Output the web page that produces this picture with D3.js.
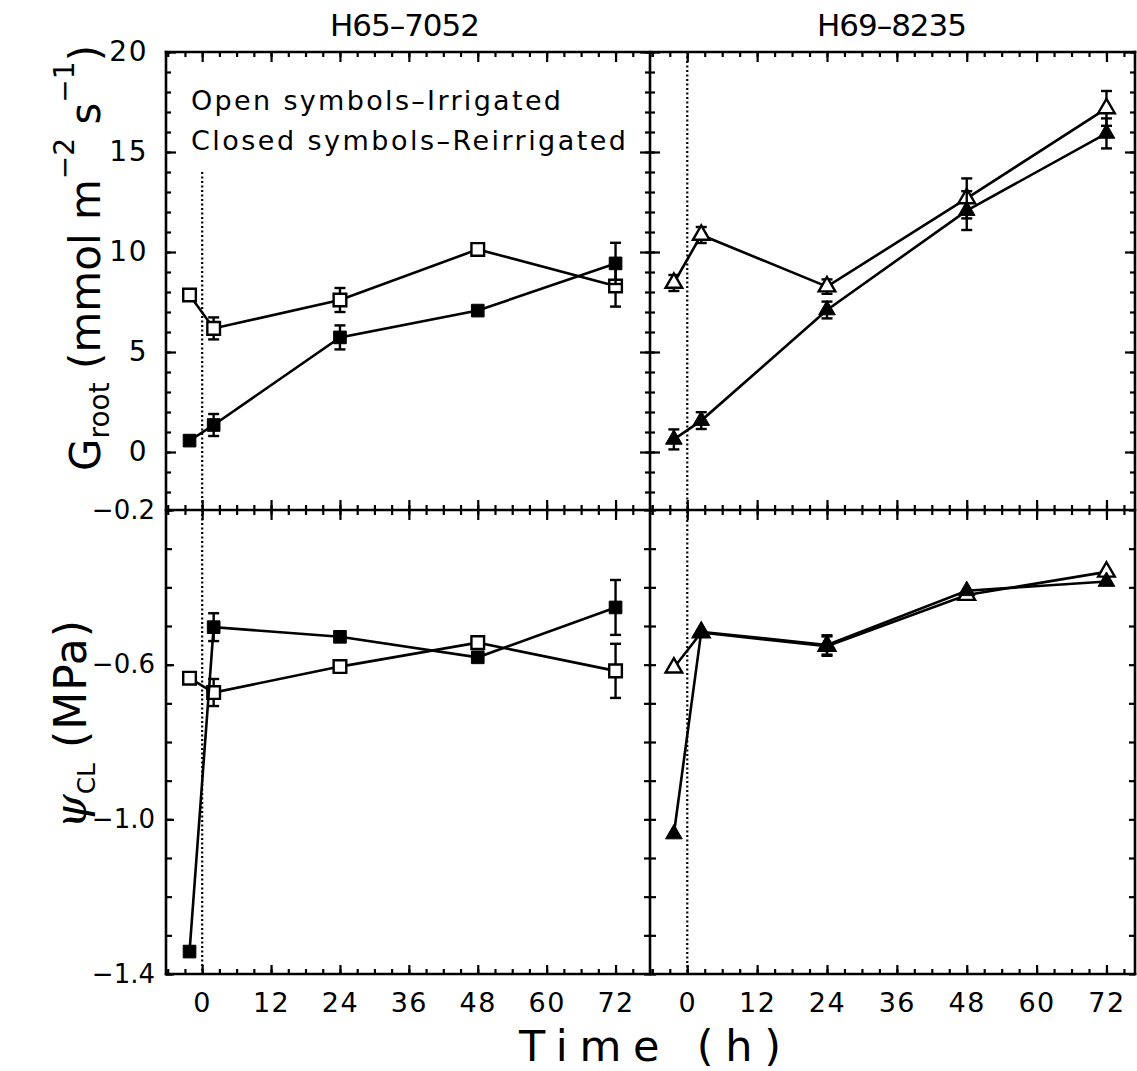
<!DOCTYPE html>
<html><head><meta charset="utf-8">
<script src="https://cdn.jsdelivr.net/npm/d3@7"></script>
<style>body{margin:0;background:#fff} text{font-family:"DejaVu Sans",sans-serif;fill:#000}</style>
</head><body><svg id="c" width="1137" height="1071"></svg>
<script>
// ---- data ----
const panelTitles = ["H65\u20137052", "H69\u20138235"];
const timesL = [-2.2, 2, 24, 48, 72];
const timesR = [-2.3, 2.4, 24, 48, 72];
// G_root (mmol m-2 s-1)
const gOpenL      = [7.85, 6.18, 7.6, 10.13, 8.3];
const gOpenLErr   = [0, 0.55, 0.6, 0, 1.03];
const gClosedL    = [0.57, 1.35, 5.73, 7.07, 9.43];
const gClosedLErr = [0, 0.55, 0.6, 0, 1.03];
const gOpenR      = [8.45, 10.85, 8.27, 12.68, 17.18];
const gOpenRErr   = [0.4, 0.4, 0.36, 1.0, 0.87];
const gClosedR    = [0.63, 1.57, 7.1, 12.07, 15.93];
const gClosedRErr = [0.5, 0.42, 0.42, 0.97, 0.75];
// psi_CL (MPa)
const pOpenL      = [-0.635, -0.672, -0.605, -0.543, -0.616];
const pOpenLErr   = [0, 0.035, 0, 0, 0.07];
const pClosedL    = [-1.342, -0.503, -0.528, -0.581, -0.452];
const pClosedLErr = [0, 0.036, 0, 0, 0.071];
const pOpenR      = [-0.608, -0.517, -0.552, -0.42, -0.36];
const pOpenRErr   = [0, 0, 0.025, 0, 0];
const pClosedR    = [-1.038, -0.515, -0.549, -0.409, -0.385];
const pClosedRErr = [0, 0, 0.025, 0, 0];
// ticks
const xMajor = [0, 12, 24, 36, 48, 60, 72];
const xMinor = d3.range(-6, 79, 3);
const gMajor = [0, 5, 10, 15, 20];
const gMinor = d3.range(-2, 21, 1);
const pMajor = [-1.4, -1.0, -0.6, -0.2];
const pMinor = d3.range(-14, -1, 1).map(v => v / 10);
const legendLines = ["Open symbols\u2013Irrigated", "Closed symbols\u2013Reirrigated"];

// ---- scales ----
const xL = d3.scaleLinear([-6.3, 78], [166, 650]);
const xR = d3.scaleLinear([-6.4, 76.9], [650, 1135]);
const yG = d3.scaleLinear([-2.9, 20], [510, 52]);
const yP = d3.scaleLinear([-1.4, -0.2], [974, 510]);
const L = 166, M = 650, R = 1135, T = 52, H = 510, B = 974;

const svg = d3.select("#c");
const SW = 2.6;

function tickAxis(axisGen, scale, values, size, tx, ty) {
  const g = svg.append("g").attr("transform", `translate(${tx},${ty})`)
    .call(axisGen(scale).tickValues(values).tickSize(size).tickFormat(""));
  g.select(".domain").remove();
  g.selectAll(".tick line").attr("stroke", "#000").attr("stroke-width", 2.2);
  return g;
}
function labelAxis(axisGen, scale, values, size, pad, fmt, tx, ty, fs, ls) {
  const g = svg.append("g").attr("transform", `translate(${tx},${ty})`)
    .call(axisGen(scale).tickValues(values).tickSize(size).tickPadding(pad).tickFormat(fmt));
  g.select(".domain").remove();
  g.selectAll(".tick line").attr("stroke", "#000").attr("stroke-width", 2.2);
  g.attr("font-family", "DejaVu Sans").attr("font-size", fs);
  g.selectAll("text").attr("fill", "#000").attr("letter-spacing", ls);
  return g;
}

// x ticks
[xL, xR].forEach(x => {
  tickAxis(d3.axisTop, x, xMinor, -5, 0, T);
  tickAxis(d3.axisTop, x, xMajor, -10, 0, T);
  tickAxis(d3.axisBottom, x, xMinor, 5, 0, H);
  tickAxis(d3.axisBottom, x, xMinor, -5, 0, H);
  tickAxis(d3.axisBottom, x, xMajor, 10, 0, H);
  tickAxis(d3.axisBottom, x, xMajor, -10, 0, H);
  tickAxis(d3.axisBottom, x, xMinor, -5, 0, B);
  labelAxis(d3.axisBottom, x, xMajor, -9, 19, d3.format("d"), 0, B, 27, 1.5);
});
// y ticks top panels
tickAxis(d3.axisLeft, yG, gMinor, -5, L, 0);
labelAxis(d3.axisLeft, yG, gMajor, -10, 18, d3.format("d"), L, 0, 28, 1.5);
tickAxis(d3.axisLeft, yG, gMinor, 5, M, 0);
tickAxis(d3.axisLeft, yG, gMinor, -5, M, 0);
tickAxis(d3.axisLeft, yG, gMajor, 10, M, 0);
tickAxis(d3.axisLeft, yG, gMajor, -10, M, 0);
tickAxis(d3.axisRight, yG, gMinor, -5, R, 0);
tickAxis(d3.axisRight, yG, gMajor, -10, R, 0);
// y ticks bottom panels
tickAxis(d3.axisLeft, yP, pMinor, -6, L, 0);
labelAxis(d3.axisLeft, yP, pMajor, -8, 11, d3.format(".1f"), L, 0, 26, 0);
tickAxis(d3.axisLeft, yP, pMinor, 6, M, 0);
tickAxis(d3.axisLeft, yP, pMinor, -6, M, 0);
tickAxis(d3.axisRight, yP, pMinor, -6, R, 0);

// borders
const borders = [[L, T, L, B], [M, T, M, B], [R, T, R, B], [L, T, R, T], [L, H, R, H], [L, B, R, B]];
svg.append("g").selectAll("line").data(borders).join("line")
  .attr("x1", d => d[0]).attr("y1", d => d[1]).attr("x2", d => d[2]).attr("y2", d => d[3])
  .attr("stroke", "#000").attr("stroke-width", SW).attr("stroke-linecap", "square");

// dotted lines at t=0
svg.append("line").attr("x1", xL(0)).attr("x2", xL(0)).attr("y1", 172).attr("y2", B)
  .attr("stroke", "#000").attr("stroke-width", 2.2).attr("stroke-dasharray", "2,2.5");
svg.append("line").attr("x1", xR(0)).attr("x2", xR(0)).attr("y1", T).attr("y2", B)
  .attr("stroke", "#000").attr("stroke-width", 2.2).attr("stroke-dasharray", "2,2.5");

// series
function series(x, y, times, vals, errs, shape, filled) {
  const pts = times.map((t, i) => ({ t, v: vals[i], e: errs[i] }));
  const g = svg.append("g");
  const eb = g.selectAll("g.eb").data(pts.filter(d => d.e > 0)).join("g");
  eb.append("line").attr("x1", d => x(d.t)).attr("x2", d => x(d.t))
    .attr("y1", d => y(d.v - d.e)).attr("y2", d => y(d.v + d.e)).attr("stroke", "#000").attr("stroke-width", 2.4);
  [1, -1].forEach(s => {
    eb.append("line").attr("x1", d => x(d.t) - 5.5).attr("x2", d => x(d.t) + 5.5)
      .attr("y1", d => y(d.v + s * d.e)).attr("y2", d => y(d.v + s * d.e)).attr("stroke", "#000").attr("stroke-width", 2.4);
  });
  g.append("path").datum(pts).attr("fill", "none").attr("stroke", "#000").attr("stroke-width", 2.6)
    .attr("d", d3.line().x(d => x(d.t)).y(d => y(d.v)));
  const sym = shape === "square" ? d3.symbol(d3.symbolSquare, 160) : d3.symbol(d3.symbolTriangle, 120);
  g.selectAll("path.m").data(pts).join("path").attr("class", "m")
    .attr("transform", d => `translate(${x(d.t)},${y(d.v)})`)
    .attr("d", sym)
    .attr("fill", filled ? "#000" : "#fff").attr("stroke", "#000").attr("stroke-width", filled ? 1 : 2.4);
}
series(xL, yG, timesL, gOpenL, gOpenLErr, "square", false);
series(xL, yG, timesL, gClosedL, gClosedLErr, "square", true);
series(xR, yG, timesR, gOpenR, gOpenRErr, "triangle", false);
series(xR, yG, timesR, gClosedR, gClosedRErr, "triangle", true);
series(xL, yP, timesL, pOpenL, pOpenLErr, "square", false);
series(xL, yP, timesL, pClosedL, pClosedLErr, "square", true);
series(xR, yP, timesR, pOpenR, pOpenRErr, "triangle", false);
series(xR, yP, timesR, pClosedR, pClosedRErr, "triangle", true);

// titles
svg.selectAll("text.title").data(panelTitles).join("text").attr("class", "title")
  .attr("x", (d, i) => i === 0 ? 405 : 892).attr("y", 36).attr("text-anchor", "middle")
  .attr("font-size", 31).attr("textLength", 150).attr("lengthAdjust", "spacing").text(d => d);

// legend
svg.selectAll("text.leg").data(legendLines).join("text").attr("class", "leg")
  .attr("x", 191).attr("y", (d, i) => 110 + i * 40).attr("font-size", 27)
  .attr("textLength", (d, i) => i === 0 ? 370 : 435).attr("lengthAdjust", "spacing").text(d => d);

// x label
svg.append("text").attr("x", 650).attr("y", 1061).attr("text-anchor", "middle")
  .attr("font-size", 43).attr("textLength", 262).attr("lengthAdjust", "spacing").text("Time (h)");

// y label top
const yl1 = svg.append("text").attr("transform", "translate(100,258) rotate(-90)")
  .attr("text-anchor", "middle").attr("font-size", 42);
yl1.append("tspan").text("G");
yl1.append("tspan").attr("font-size", 28).attr("dy", 9).text("root");
yl1.append("tspan").attr("dy", -9).text(" (mmol m");
yl1.append("tspan").attr("font-size", 28).attr("dy", -26).text("\u22122");
yl1.append("tspan").attr("dy", 26).text(" s");
yl1.append("tspan").attr("font-size", 28).attr("dy", -26).text("\u22121");
yl1.append("tspan").attr("dy", 26).text(")");

// y label bottom
const yl2 = svg.append("text").attr("transform", "translate(86,724) rotate(-90)")
  .attr("text-anchor", "middle").attr("font-size", 44);
yl2.append("tspan").attr("font-family", "DejaVu Serif").attr("font-style", "italic").text("\u03c8");
yl2.append("tspan").attr("font-size", 25).attr("dy", 9).text("CL");
yl2.append("tspan").attr("dy", -9).attr("font-size", 44).attr("letter-spacing", 1).text(" (MPa)");
</script>
</body></html>
